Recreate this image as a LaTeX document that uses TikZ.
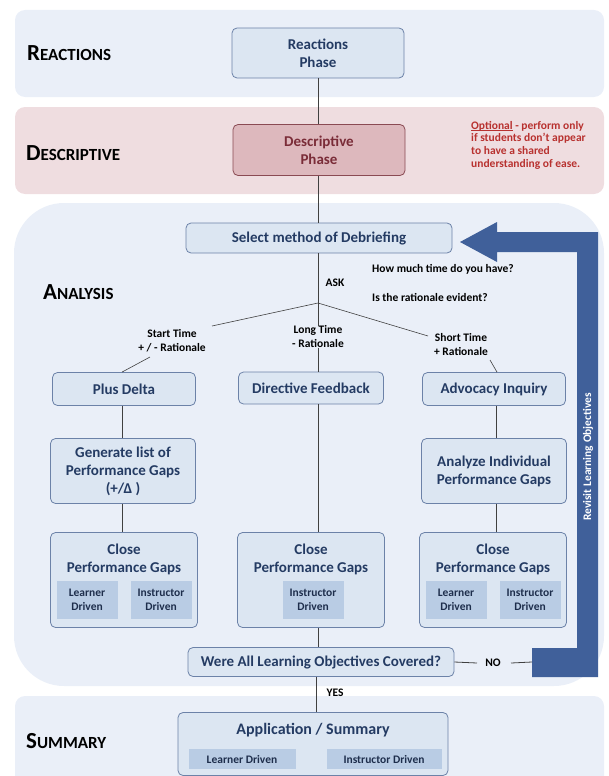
\documentclass[tikz,border=0pt]{standalone}
\usepackage{fontspec}
\setmainfont{Carlito}
\definecolor{bandblue}{HTML}{EAEFF8}
\definecolor{bandpink}{HTML}{EFDDE0}
\definecolor{boxfill}{HTML}{DCE6F2}
\definecolor{boxdraw}{HTML}{6C82A8}
\definecolor{subfill}{HTML}{B9CCE4}
\definecolor{navy}{HTML}{243B63}
\definecolor{subtext}{HTML}{1E2E4C}
\definecolor{descfill}{HTML}{DDB8BD}
\definecolor{descdraw}{HTML}{8A4A53}
\definecolor{desctext}{HTML}{7A2C38}
\definecolor{optred}{HTML}{B8312F}
\definecolor{arrowblue}{HTML}{40609A}
\definecolor{linegray}{HTML}{404040}
\newcommand\myboxfont{\fontsize{15}{18}\selectfont\bfseries}
\newcommand\mysubfont{\fontsize{11.5}{14}\selectfont\bfseries}
\newcommand\myqfont{\fontsize{11.5}{14}\selectfont\bfseries}
\newcommand\bandname[2]{{\fontsize{23}{23}\selectfont #1}{\fontsize{17}{17}\selectfont #2}}
\newcommand\myuline[1]{\leavevmode\rlap{\rule[-1.3pt]{\widthof{#1}}{0.6pt}}#1}
\usepackage{calc}
\begin{document}
\begin{tikzpicture}[x=1pt,y=-1pt,
  bx/.style={draw=boxdraw, fill=boxfill, rounded corners=5pt, line width=0.8pt, text=navy, font=\myboxfont, align=center, inner sep=0pt},
  subbx/.style={fill=subfill, text=subtext, font=\mysubfont, align=center, inner sep=0pt},
  bandlbl/.style={anchor=base west, font=\bfseries, text=black, inner sep=0pt},
  conn/.style={draw=linegray, line width=0.8pt},
  thin conn/.style={draw=linegray, line width=0.6pt},
  qtxt/.style={font=\myqfont, text=black, inner sep=0pt}
]
\useasboundingbox (0,0) rectangle (608,776);
% bands
\fill[bandblue, rounded corners=10pt] (15,10) rectangle (604,97);
\fill[bandpink, rounded corners=10pt] (15,107) rectangle (604,194);
\fill[bandblue, rounded corners=50pt] (14,203) rectangle (604,686);
\fill[bandblue, rounded corners=10pt] (15,696) rectangle (604,800);
% band labels
\node[bandlbl] (lr) at (27,61) {\bandname{R}{EACTIONS}};
\node[bandlbl] (ld) at (26,160) {\bandname{D}{ESCRIPTIVE}};
\node[bandlbl] (la) at (43,299) {\bandname{A}{NALYSIS}};
\node[bandlbl] (ls) at (26,748) {\bandname{S}{UMMARY}};
% top boxes
\node[bx, minimum width=172, minimum height=50] (reac) at (318,53) {Reactions\\Phase};
\node[bx, minimum width=172, minimum height=51, fill=descfill, draw=descdraw, text=desctext] (desc) at (319,150) {Descriptive\\Phase};
\node[anchor=north west, inner sep=0pt, align=left, text=optred, font=\fontsize{11.5}{12.6}\selectfont\bfseries] (opt) at (471,121)
  {\myuline{Optional} - perform only\\if students don't appear\\to have a shared\\understanding of ease.};
\node[bx, minimum width=266, minimum height=30] (sel) at (319,238) {Select method of Debriefing};
% blue arrow
\fill[arrowblue] (460,242) -- (497,222) -- (497,232) -- (598,232) -- (598,677) -- (532,677) -- (532,648)
  -- (577,648) -- (577,252) -- (497,252) -- (497,262) -- cycle;
\node[rotate=90, text=white, font=\fontsize{11.5}{13}\selectfont\bfseries, inner sep=0pt] (rev) at (588,457) {Revisit Learning Objectives};
\coordinate (blk) at (532,662);
% questions
\node[qtxt] (ask) at (335,283) {ASK};
\node[qtxt, anchor=west] (q1) at (372,269) {How much time do you have?};
\node[qtxt, anchor=west] (q2) at (372,297) {Is the rationale evident?};
\coordinate (br) at (318,303);
\node[qtxt, align=center] (lbll) at (172,341) {Start Time\\+ / - Rationale};
\node[qtxt, align=center] (lblm) at (318,337) {Long Time\\- Rationale};
\node[qtxt, align=center] (lblr) at (461,345) {Short Time\\+ Rationale};
% method boxes
\node[bx, minimum width=143, minimum height=33] (pd) at (124,389) {Plus Delta};
\node[bx, minimum width=145, minimum height=32] (df) at (311,388) {Directive Feedback};
\node[bx, minimum width=143, minimum height=33] (ai) at (494,389) {Advocacy Inquiry};
\node[bx, minimum width=145, minimum height=65] (gl) at (123,471) {Generate list of\\Performance Gaps\\(+/Δ )};
\node[bx, minimum width=145, minimum height=65] (an) at (494,471) {Analyze Individual\\Performance Gaps};
% close boxes
\node[bx, minimum width=147, minimum height=95] (cl) at (124,580) {};
\node[bx, minimum width=147, minimum height=95] (cm) at (311,580) {};
\node[bx, minimum width=147, minimum height=95] (cr) at (493,580) {};
\node[text=navy, font=\myboxfont, align=center, inner sep=0pt] (clt) at (124,559) {Close\\Performance Gaps};
\node[text=navy, font=\myboxfont, align=center, inner sep=0pt] (cmt) at (311,559) {Close\\Performance Gaps};
\node[text=navy, font=\myboxfont, align=center, inner sep=0pt] (crt) at (493,559) {Close\\Performance Gaps};
\node[subbx, minimum width=61, minimum height=38] (cll) at (87,600) {Learner\\Driven};
\node[subbx, minimum width=61, minimum height=38] (cli) at (161,600) {Instructor\\Driven};
\node[subbx, minimum width=61, minimum height=38] (cmi) at (313,600) {Instructor\\Driven};
\node[subbx, minimum width=61, minimum height=38] (crl) at (456,600) {Learner\\Driven};
\node[subbx, minimum width=61, minimum height=38] (cri) at (530,600) {Instructor\\Driven};
% bottom
\node[bx, minimum width=266, minimum height=29] (wc) at (321,662) {Were All Learning Objectives Covered?};
\node[qtxt] (no) at (493,663) {NO};
\node[qtxt] (yes) at (335,693) {YES};
\node[bx, minimum width=270, minimum height=63] (sum) at (313,744) {};
\node[text=navy, font=\fontsize{16}{18}\selectfont\bfseries, inner sep=0pt] (sumt) at (313,730) {Application / Summary};
\node[subbx, minimum width=107, minimum height=20] (sl) at (242,759) {Learner Driven};
\node[subbx, minimum width=115, minimum height=20] (si) at (384,759) {Instructor Driven};
% connectors
\draw[conn] (reac.south -| 318,0) -- (desc.north -| 318,0);
\draw[conn] (desc.south -| 318,0) -- (sel.north -| 318,0);
\draw[conn] (sel.south -| 318,0) -- (br);
\draw[thin conn] (br) -- (212,326);
\draw[thin conn] (br) -- (lblm.north);
\draw[thin conn] (br) -- (428,336);
\draw[thin conn] (150,357) -- (pd.north -| 122,0);
\draw[conn] (lblm.south) -- (df.north -| 318,0);
\draw[thin conn] (490,360) -- (ai.north -| 497,0);
\draw[conn] (pd.south -| 122,0) -- (gl.north -| 122,0);
\draw[conn] (gl.south -| 122,0) -- (cl.north -| 122,0);
\draw[conn] (df.south -| 318,0) -- (cm.north -| 318,0);
\draw[conn] (ai.south -| 496,0) -- (an.north -| 496,0);
\draw[conn] (an.south -| 496,0) -- (cr.north -| 496,0);
\draw[conn] (cm.south -| 318,0) -- (wc.north -| 318,0);
\draw[conn] (wc.east) -- (no.west -| 477,0);
\draw[conn] (no.east -| 511,0) -- (blk);
\draw[conn] (wc.south -| 316,0) -- (sum.north -| 316,0);
\end{tikzpicture}
\end{document}
